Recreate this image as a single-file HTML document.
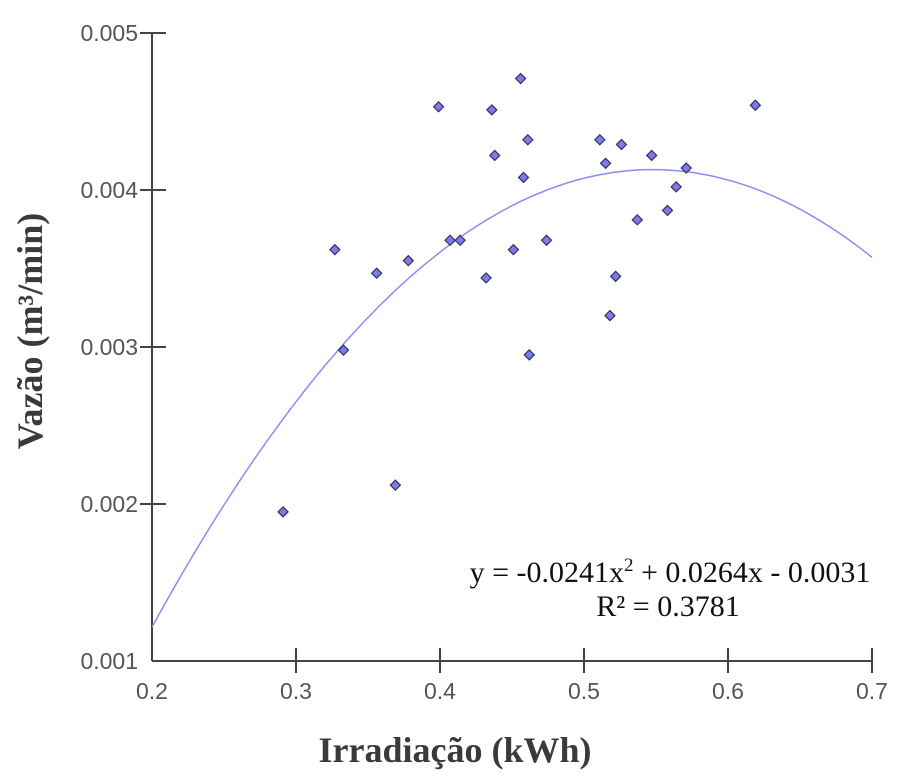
<!DOCTYPE html>
<html><head><meta charset="utf-8"><style>
html,body{margin:0;padding:0;background:#fff;}
svg{display:block;}
.tick{font-family:"Liberation Sans",sans-serif;font-size:23px;fill:#555;}
.title{font-family:"Liberation Serif",serif;font-weight:bold;font-size:36px;fill:#3a3a3a;}
.eq{font-family:"Liberation Serif",serif;font-size:30px;fill:#111;}
</style></head><body>
<svg id="chart" width="900" height="780"></svg>
<script>
const xVals=[0.291,0.327,0.333,0.356,0.369,0.378,0.399,0.407,0.414,0.432,0.436,0.438,0.451,0.456,0.458,0.461,0.462,0.474,0.511,0.515,0.518,0.522,0.526,0.537,0.547,0.558,0.564,0.571,0.619];
const yVals=[0.00195,0.00362,0.00298,0.00347,0.00212,0.00355,0.00453,0.00368,0.00368,0.00344,0.00451,0.00422,0.00362,0.00471,0.00408,0.00432,0.00295,0.00368,0.00432,0.00417,0.00320,0.00345,0.00429,0.00381,0.00422,0.00387,0.00402,0.00414,0.00454];
const xTicks=[0.2,0.3,0.4,0.5,0.6,0.7];
const yTicks=[0.001,0.002,0.003,0.004,0.005];
const coef=[-0.0241,0.0264,-0.0031];
const NS="http://www.w3.org/2000/svg";
const svg=document.getElementById('chart');
const X=v=>152+(v-0.2)*1440;
const Y=v=>661-(v-0.001)*157000;
function mk(t,a){const e=document.createElementNS(NS,t);for(const k in a)e.setAttribute(k,a[k]);svg.appendChild(e);return e;}
let ax=mk('line',{x1:152,y1:33,x2:152,y2:661,stroke:'#444','stroke-width':2});


ax=mk('line',{x1:152,y1:661,x2:X(0.7),y2:661,stroke:'#444','stroke-width':2});


yTicks.forEach(v=>{
  if(v>yTicks[0]){const l=mk('line',{x1:140,y1:Y(v),x2:166,y2:Y(v),stroke:'#444','stroke-width':2});
  
  }
  const t=mk('text',{x:138,y:Y(v)+8,'text-anchor':'end',class:'tick'});t.textContent=v.toFixed(3);
  
  
});
xTicks.forEach(v=>{
  if(v>xTicks[0]){const l=mk('line',{x1:X(v),y1:648,x2:X(v),y2:673,stroke:'#444','stroke-width':2});
  
  }
  const t=mk('text',{x:X(v),y:699,'text-anchor':'middle',class:'tick'});t.textContent=v.toFixed(1);
  
  
});
let d='';
for(let i=0;i<=100;i++){const x=0.2+0.5*i/100;const y=coef[0]*x*x+coef[1]*x+coef[2];d+=(i?'L':'M')+X(x).toFixed(1)+','+Y(y).toFixed(1);}
const p=mk('path',{d:d,fill:'none',stroke:'#8c8cf0','stroke-width':1.5});


xVals.forEach((xv,i)=>{
  const cx=X(xv),cy=Y(yVals[i]);
  const m=mk('polygon',{points:`${cx},${cy-5} ${cx+5},${cy} ${cx},${cy+5} ${cx-5},${cy}`,fill:'#7b7bea',stroke:'#33335a','stroke-width':1.2});
  
  
});
</script>
<div style="position:absolute;left:0;top:0;width:900px;height:780px;pointer-events:none;">
<svg width="900" height="780" style="position:absolute;left:0;top:0">
<text x="455" y="762" text-anchor="middle" class="title">Irradiação (kWh)</text>
<text transform="translate(42,331) rotate(-90)" text-anchor="middle" class="title" font-size="38">Vazão (m³/min)</text>
<text x="670" y="582" text-anchor="middle" class="eq">y = -0.0241x<tspan dy="-11" font-size="19">2</tspan><tspan dy="11"> + 0.0264x - 0.0031</tspan></text>
<text x="668" y="616" text-anchor="middle" class="eq">R² = 0.3781</text>
</svg></div>
</body></html>
